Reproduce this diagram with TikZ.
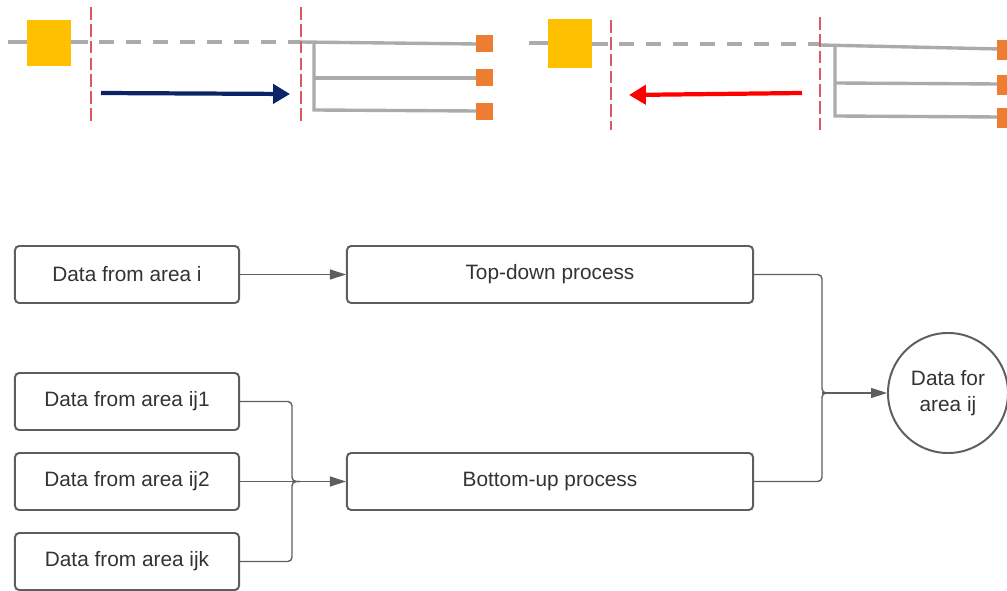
\documentclass[tikz,border=0pt]{standalone}
\usepackage{fontspec}
\setmainfont{Liberation Sans}
\usetikzlibrary{arrows.meta}
\definecolor{boxc}{HTML}{5E5E5E}
\definecolor{textc}{HTML}{333333}
\definecolor{treec}{HTML}{ABABAB}
\definecolor{cutc}{HTML}{DB5A62}
\definecolor{nodec}{HTML}{FFC000}
\definecolor{leafc}{HTML}{ED7D31}
\definecolor{navyc}{HTML}{0B2466}
\definecolor{redc}{HTML}{FF0000}

\tikzset{
  databox/.style={draw=boxc, line width=1.4pt, rounded corners=3pt,
    minimum width=5.6cm, minimum height=1.425cm, text=textc,
    font=\fontsize{14.8}{18.5}\selectfont},
  procbox/.style={databox, minimum width=10.15cm},
  link/.style={boxc, line width=1pt, rounded corners=3pt},
  tip/.style={-{Triangle[length=0.4cm,width=0.25cm]}},
  tree/.style={treec, line width=2.4pt},
  cutline/.style={treec, line width=2.8pt, dash pattern=on 10.7pt off 8.5pt},
  cut/.style={cutc, line width=1.4pt, dash pattern=on 9pt off 3pt},
}

\begin{document}
\begin{tikzpicture}[x=0.025cm, y=-0.025cm]
  \useasboundingbox (0,0) rectangle (1007,591);
  % top left: top-down
  \draw[tree] (8,42) -- (27,42);
  \fill[nodec] (27,20) rectangle (71,66);
  \draw[tree] (71,42) -- (88,42);
  \draw[cutline] (99,42) -- (300,42);
  \draw[tree] (300,42) -- (478,44);
  \draw[tree] (314,43) -- (314,110) -- (478,111);
  \draw[tree] (314,78) -- (478,78);
  \foreach \y in {44,78,112}
    \fill[leafc] (476,\y-8.5) rectangle (493,\y+8.5);
  \draw[cut] (91,7) -- (91,123);
  \draw[cut] (301,7) -- (301,122);
  \draw[navyc, line width=3pt, -{Triangle[length=12pt,width=13.5pt]}] (101,93) -- (290,94);
  % top right: bottom-up
  \draw[tree] (529,43) -- (548,43);
  \fill[nodec] (548,19) rectangle (592,68);
  \draw[tree] (592,44) -- (608,44);
  \draw[cutline] (619,44) -- (820,44);
  \draw[tree] (820,45) -- (1000,49);
  \draw[tree] (835,46) -- (835,116) -- (1000,117);
  \draw[tree] (835,83) -- (1000,84);
  \foreach \y in {50,85,118}
    \fill[leafc] (997,\y-10) rectangle (1012,\y+10);
  \draw[cut] (611,20) -- (611,130);
  \draw[cut] (820,17) -- (820,130);
  \draw[redc, line width=3pt, -{Triangle[length=12pt,width=13.5pt]}] (802,93) -- (629,95);

  % flow chart
  \node[databox] (areai) at (127,274.5) {Data from area i};
  \node[procbox] (topdown) at (550,274.5) {Top-down process};
  \node[databox] (areaij1) at (127,401.5) {Data from area ij1};
  \node[databox] (areaij2) at (127,481.5) {Data from area ij2};
  \node[databox] (areaijk) at (127,561.5) {Data from area ijk};
  \node[procbox] (bottomup) at (550,481.5) {Bottom-up process};
  \node[draw=boxc, line width=1.4pt, circle, minimum size=3cm, align=center,
    text=textc, font=\fontsize{14.8}{18.5}\selectfont] (areaij) at (948,393) {Data for\\area ij};

  \coordinate (joinb) at (292,481.5);
  \coordinate (joint) at (822,393);
  \draw[link, tip] (areai) -- (topdown);
  \draw[link] (areaij1.east) -| (joinb) -- ++(8,0);
  \draw[link] (areaijk.east) -| (joinb) -- ++(8,0);
  \draw[link, tip] (areaij2) -- (bottomup);
  \draw[link] (topdown.east) -| (joint) -- ++(8,0);
  \draw[link] (bottomup.east) -| (joint) -- ++(8,0);
  \draw[link, tip] (joint) -- (areaij);
\end{tikzpicture}
\end{document}
